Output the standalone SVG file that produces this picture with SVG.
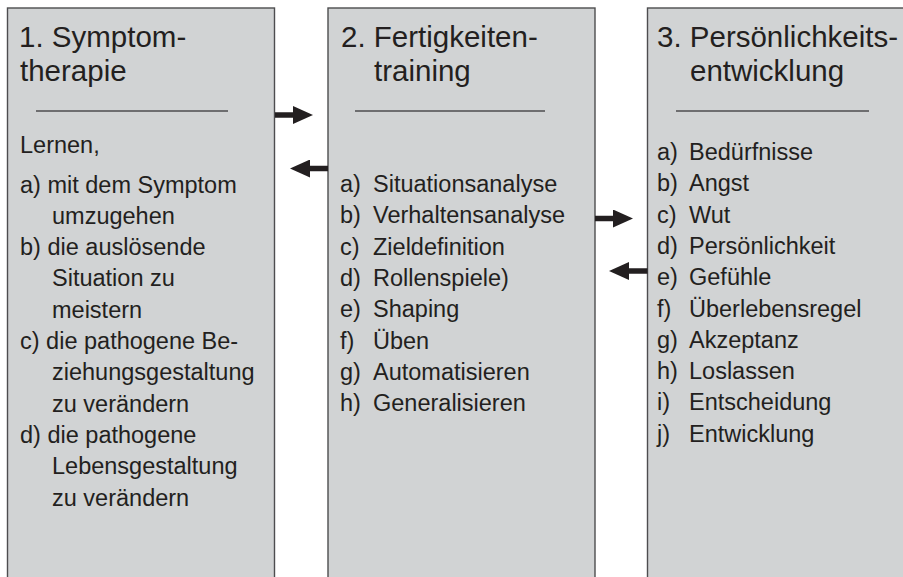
<svg xmlns="http://www.w3.org/2000/svg" width="903" height="577" viewBox="0 0 903 577">
<defs>
<style>
.box{fill:#d1d3d4;stroke:#4d4d4f;stroke-width:1.4}
.sep{stroke:#4d4d4f;stroke-width:1.4}
text{font-family:"Liberation Sans",Arial,Helvetica,sans-serif;fill:#231f20}
.t{font-size:29.5px}
.b{font-size:23.5px}
.conn{stroke:#231f20;stroke-width:5.5;fill:none;marker-end:url(#ah)}
</style>
<marker id="ah" viewBox="0 0 20 18" refX="2" refY="9" markerWidth="20" markerHeight="18" markerUnits="userSpaceOnUse" orient="auto">
<path d="M0,0 L20,9 L0,18 Z" fill="#231f20"/>
</marker>
</defs>
<rect width="903" height="577" fill="#ffffff"/>

<g id="node1">
<rect class="box" x="7.5" y="8" width="267" height="590"/>
<text class="t" x="19" y="47">1. Symptom-</text>
<text class="t" x="20" y="81">therapie</text>
<line class="sep" x1="36" y1="111" x2="228" y2="111"/>
<text class="b" x="20" y="153">Lernen,</text>
<text class="b" x="20" y="192.5">a) mit dem Symptom</text>
<text class="b" x="52" y="223.8">umzugehen</text>
<text class="b" x="20" y="255.1">b) die auslösende</text>
<text class="b" x="52" y="286.4">Situation zu</text>
<text class="b" x="52" y="317.7">meistern</text>
<text class="b" x="20" y="349">c) die pathogene Be-</text>
<text class="b" x="52" y="380.3">ziehungsgestaltung</text>
<text class="b" x="52" y="411.6">zu verändern</text>
<text class="b" x="20" y="442.9">d) die pathogene</text>
<text class="b" x="52" y="474.2">Lebensgestaltung</text>
<text class="b" x="52" y="505.5">zu verändern</text>
</g>

<g id="node2">
<rect class="box" x="328" y="8" width="267" height="590"/>
<text class="t" x="341" y="47">2. Fertigkeiten-</text>
<text class="t" x="374" y="81">training</text>
<line class="sep" x1="355" y1="111" x2="545" y2="111"/>
<text class="b" x="340" y="192">a)</text><text class="b" x="373" y="192">Situationsanalyse</text>
<text class="b" x="340" y="223.3">b)</text><text class="b" x="373" y="223.3">Verhaltensanalyse</text>
<text class="b" x="340" y="254.6">c)</text><text class="b" x="373" y="254.6">Zieldefinition</text>
<text class="b" x="340" y="285.9">d)</text><text class="b" x="373" y="285.9">Rollenspiele)</text>
<text class="b" x="340" y="317.2">e)</text><text class="b" x="373" y="317.2">Shaping</text>
<text class="b" x="340" y="348.5">f)</text><text class="b" x="373" y="348.5">Üben</text>
<text class="b" x="340" y="379.8">g)</text><text class="b" x="373" y="379.8">Automatisieren</text>
<text class="b" x="340" y="411.1">h)</text><text class="b" x="373" y="411.1">Generalisieren</text>
</g>

<g id="node3">
<rect class="box" x="647.5" y="8" width="280" height="590"/>
<text class="t" x="657" y="47">3. Persönlichkeits-</text>
<text class="t" x="690" y="81">entwicklung</text>
<line class="sep" x1="676" y1="111" x2="869" y2="111"/>
<text class="b" x="657" y="160">a)</text><text class="b" x="689" y="160">Bedürfnisse</text>
<text class="b" x="657" y="191.3">b)</text><text class="b" x="689" y="191.3">Angst</text>
<text class="b" x="657" y="222.6">c)</text><text class="b" x="689" y="222.6">Wut</text>
<text class="b" x="657" y="253.9">d)</text><text class="b" x="689" y="253.9">Persönlichkeit</text>
<text class="b" x="657" y="285.2">e)</text><text class="b" x="689" y="285.2">Gefühle</text>
<text class="b" x="657" y="316.5">f)</text><text class="b" x="689" y="316.5">Überlebensregel</text>
<text class="b" x="657" y="347.8">g)</text><text class="b" x="689" y="347.8">Akzeptanz</text>
<text class="b" x="657" y="379.1">h)</text><text class="b" x="689" y="379.1">Loslassen</text>
<text class="b" x="657" y="410.4">i)</text><text class="b" x="689" y="410.4">Entscheidung</text>
<text class="b" x="657" y="441.7">j)</text><text class="b" x="689" y="441.7">Entwicklung</text>
</g>

<g id="connectors">
<line class="conn" x1="275" y1="115" x2="295" y2="115"/>
<line class="conn" x1="328" y1="168.5" x2="308" y2="168.5"/>
<line class="conn" x1="595" y1="218.5" x2="615" y2="218.5"/>
<line class="conn" x1="647.5" y1="271" x2="627" y2="271"/>
</g>
</svg>
